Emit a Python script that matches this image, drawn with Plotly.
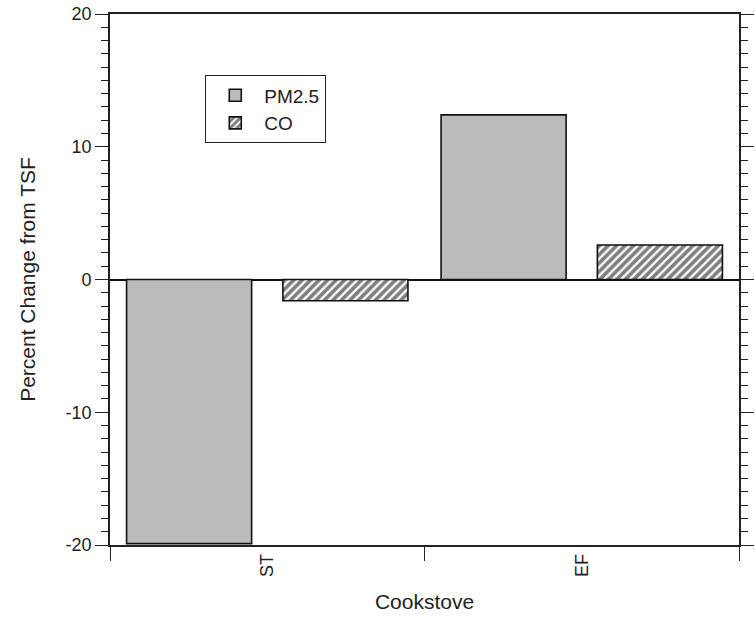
import plotly.graph_objects as go

categories = ["ST", "EF"]
pm25 = [-19.9, 12.4]
co = [-1.6, 2.6]
yticks = [-20, -10, 0, 10, 20]
yticklabels = ["-20", "-10", "0", "10", "20"]

FONT = "Arial, Liberation Sans, sans-serif"

fig = go.Figure()
fig.add_trace(go.Bar(
    x=categories, y=pm25, name="PM2.5",
    marker=dict(color="#bbbbbb", line=dict(color="#111111", width=1.6)),
))
fig.add_trace(go.Bar(
    x=categories, y=co, name="CO",
    marker=dict(color="white", line=dict(color="#111111", width=1.6),
                pattern=dict(shape="/", fgcolor="black", bgcolor="white",
                             size=6, solidity=0.62)),
))

fig.update_layout(
    width=756, height=621,
    margin=dict(l=110, r=2, t=14, b=76),
    paper_bgcolor="white", plot_bgcolor="white",
    font=dict(family=FONT, size=18, color="#222222"),
    barmode="group", bargap=0.006, bargroupgap=0.2,
    showlegend=True,
    legend=dict(x=0.151, y=0.885, xanchor="left", yanchor="top",
                bordercolor="#222222", borderwidth=1.3, bgcolor="white",
                font=dict(family=FONT, size=19, color="#222222"),
                itemwidth=48, tracegroupgap=0),
    xaxis=dict(
        title=dict(text="Cookstove", font=dict(family=FONT, size=21), standoff=18),
        tickangle=-90, tickson="boundaries", ticks="outside", ticklen=14,
        tickcolor="#222222", tickwidth=1.3,
        showline=True, linecolor="#222222", linewidth=1.6, mirror=True,
        showgrid=False, zeroline=False,
        tickfont=dict(family=FONT, size=18),
    ),
    yaxis=dict(
        title=dict(text="Percent Change from TSF", font=dict(family=FONT, size=21), standoff=24),
        range=[-20, 20], tickvals=yticks, ticktext=yticklabels,
        ticks="outside", ticklen=13, tickcolor="#222222", tickwidth=1.3,
        minor=dict(dtick=1, ticks="outside", ticklen=7, tickcolor="#222222", tickwidth=1),
        showline=True, linecolor="#222222", linewidth=1.6, mirror="ticks",
        showgrid=False, zeroline=True, zerolinecolor="#111111", zerolinewidth=1.6,
        tickfont=dict(family=FONT, size=18),
    ),
)

fig.write_html("out.html")
